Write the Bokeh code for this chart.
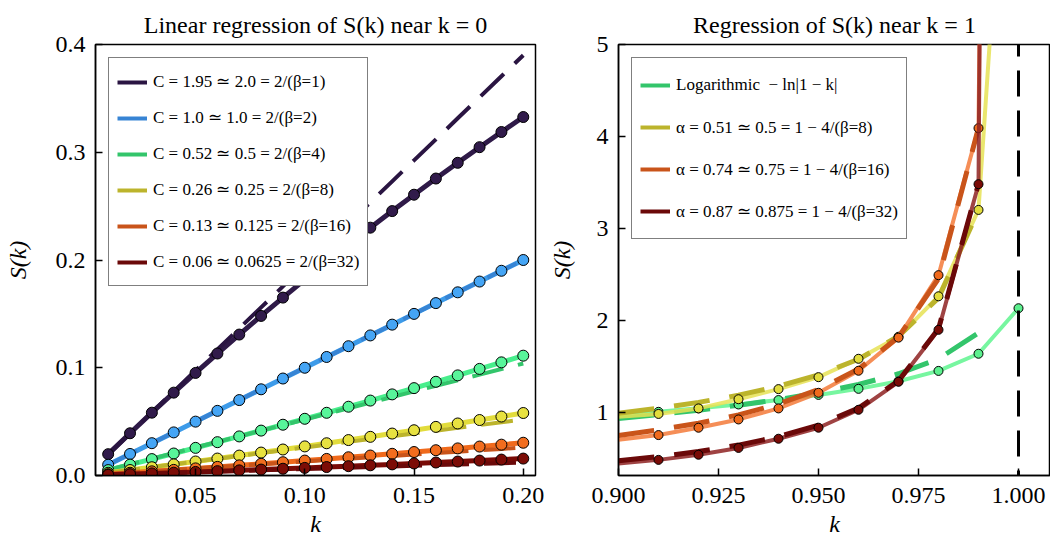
from bokeh.plotting import figure
from bokeh.models import Range1d, FixedTicker, PrintfTickFormatter, Legend, LegendItem, Span
from bokeh.layouts import row
from bokeh.embed import file_html
from bokeh.resources import INLINE

FONT = "Liberation Serif"

# ---------------- Left panel data (k near 0) ----------------
k_left = [0.01, 0.02, 0.03, 0.04, 0.05, 0.06, 0.07, 0.08, 0.09, 0.10,
          0.11, 0.12, 0.13, 0.14, 0.15, 0.16, 0.17, 0.18, 0.19, 0.20]
S_beta1 = [0.0198, 0.0392, 0.0583, 0.0769, 0.0952, 0.1132, 0.1308, 0.1481, 0.1651, 0.1818,
           0.1981, 0.2142, 0.2300, 0.2454, 0.2606, 0.2756, 0.2902, 0.3047, 0.3188, 0.3327]
S_beta2 = [0.010, 0.020, 0.030, 0.040, 0.050, 0.060, 0.070, 0.080, 0.090, 0.100,
           0.110, 0.120, 0.130, 0.140, 0.150, 0.160, 0.170, 0.180, 0.190, 0.200]
S_beta4 = [0.00503, 0.0101, 0.01523, 0.02041, 0.02564, 0.03093, 0.03627, 0.04167, 0.04712, 0.05263,
           0.0582, 0.06383, 0.06953, 0.07528, 0.08109, 0.08698, 0.09292, 0.09893, 0.1050, 0.1112]
S_beta8 = [0.00252, 0.00508, 0.00768, 0.01032, 0.0130, 0.01572, 0.01848, 0.02128, 0.02412, 0.0270,
           0.02992, 0.03288, 0.03588, 0.03892, 0.0420, 0.04512, 0.04828, 0.05148, 0.05472, 0.0580]
S_beta16 = [0.00126, 0.00255, 0.00387, 0.00522, 0.00659, 0.00799, 0.00941, 0.01086, 0.01234, 0.01385,
            0.01538, 0.01694, 0.01853, 0.02015, 0.02179, 0.02346, 0.02515, 0.02687, 0.02862, 0.0304]
S_beta32 = [0.00063, 0.00128, 0.00195, 0.00263, 0.00333, 0.00404, 0.00477, 0.00551, 0.00627, 0.00705,
            0.00784, 0.00865, 0.00948, 0.01032, 0.01118, 0.01205, 0.01294, 0.01384, 0.01476, 0.0157]
C_fit = [1.95, 1.0, 0.52, 0.26, 0.13, 0.06]
left_labels = ["C = 1.95 ≃ 2.0 = 2/(β=1)",
               "C = 1.0 ≃ 1.0 = 2/(β=2)",
               "C = 0.52 ≃ 0.5 = 2/(β=4)",
               "C = 0.26 ≃ 0.25 = 2/(β=8)",
               "C = 0.13 ≃ 0.125 = 2/(β=16)",
               "C = 0.06 ≃ 0.0625 = 2/(β=32)"]

# ---------------- Right panel data (k near 1) ----------------
k_right = [0.90, 0.91, 0.92, 0.93, 0.94, 0.95, 0.96, 0.97, 0.98, 0.99, 1.00]
S_r_beta4 = [0.968, 1.003, 1.041, 1.083, 1.131, 1.187, 1.253, 1.335, 1.448, 1.635, 2.13]
S_r_beta8 = [0.95, 0.98, 1.04, 1.14, 1.25, 1.38, 1.58, 1.82, 2.26, 3.20, 9.7]
S_r_beta16 = [0.70, 0.75, 0.83, 0.92, 1.04, 1.21, 1.45, 1.81, 2.49, 4.09, 45.0]
S_r_beta32 = [0.44, 0.48, 0.536, 0.61, 0.71, 0.83, 1.025, 1.33, 1.895, 3.48, 60.0]
k_fit_r = [0.90, 0.91, 0.92, 0.93, 0.94, 0.95, 0.96, 0.97, 0.98, 0.99]
fit_log = [0.930, 0.973, 1.020, 1.074, 1.137, 1.210, 1.300, 1.417, 1.580, 1.861]
fit_b8 = [0.987, 1.042, 1.106, 1.184, 1.281, 1.406, 1.575, 1.825, 2.243, 3.193]
fit_b16 = [0.745, 0.806, 0.879, 0.970, 1.087, 1.245, 1.468, 1.817, 2.452, 4.095]
fit_b32 = [0.470, 0.515, 0.571, 0.641, 0.732, 0.859, 1.043, 1.340, 1.906, 3.484]
right_labels = ["Logarithmic  − ln|1 − k|",
                "α = 0.51 ≃ 0.5 = 1 − 4/(β=8)",
                "α = 0.74 ≃ 0.75 = 1 − 4/(β=16)",
                "α = 0.87 ≃ 0.875 = 1 − 4/(β=32)"]

left_x_ticks = [0.05, 0.10, 0.15, 0.20]
left_y_ticks = [0.0, 0.1, 0.2, 0.3, 0.4]
right_x_ticks = [0.900, 0.925, 0.950, 0.975, 1.000]
right_y_ticks = [1, 2, 3, 4, 5]

# colours
left_solid = ["#2f1a48", "#3d9be9", "#48ee8c", "#e2dc3c", "#f06a1c", "#7a0b06"]
left_dot = ["#311b4b", "#45a5f5", "#58f59a", "#e8e240", "#f26d1e", "#7c0c06"]
left_dash = ["#2a1542", "#3784d4", "#33c56b", "#bcb42c", "#c9541a", "#6b0909"]
right_solid = ["#5ff58f", "#e6e255", "#f37a3a", "#8e2222"]
right_dot = ["#5cf08e", "#e2dc3c", "#f06a1c", "#7a0b06"]
right_dash = ["#33c56b", "#bcb42c", "#c9541a", "#6b0909"]


def style(p, xt, yt, xf, yf, ylab_standoff):
    p.xgrid.visible = False
    p.ygrid.visible = False
    p.outline_line_color = "black"
    p.outline_line_width = 1.5
    p.outline_line_alpha = 1.0
    p.background_fill_color = "white"
    p.border_fill_color = "white"
    p.xaxis.ticker = FixedTicker(ticks=xt)
    p.yaxis.ticker = FixedTicker(ticks=yt)
    p.xaxis.formatter = PrintfTickFormatter(format=xf)
    p.yaxis.formatter = PrintfTickFormatter(format=yf)
    for ax in (p.xaxis[0], p.yaxis[0]):
        ax.major_tick_in = 7
        ax.major_tick_out = 0
        ax.minor_tick_line_color = None
        ax.axis_line_color = "black"
        ax.axis_line_width = 1.5
        ax.major_tick_line_color = "black"
        ax.major_tick_line_width = 1.5
        ax.major_label_text_font = FONT
        ax.major_label_text_font_size = "24px"
        ax.major_label_text_color = "black"
        ax.axis_label_text_font = FONT
        ax.axis_label_text_font_style = "italic"
        ax.axis_label_text_font_size = "24px"
        ax.axis_label_text_color = "black"
    p.xaxis.major_label_standoff = 12
    p.xaxis.axis_label_standoff = 5
    p.yaxis.major_label_standoff = 10
    p.yaxis.axis_label_standoff = ylab_standoff
    p.title.text_font = FONT
    p.title.text_font_size = "24px"
    p.title.text_font_style = "normal"
    p.title.align = "center"
    p.title.text_color = "black"
    p.title.standoff = 14


def add_legend(p, labels, colors, xs, ys_list, lh, sp):
    items = []
    for lab, c, ys in zip(labels, colors, ys_list):
        r = p.line(xs[:1], ys[:1], line_color=c, line_width=4)
        items.append(LegendItem(label=lab, renderers=[r]))
    leg = Legend(items=items, location="top_left")
    leg.margin = 13
    leg.padding = 8
    leg.spacing = sp
    leg.label_height = lh
    leg.glyph_height = 20
    leg.glyph_width = 30
    leg.label_standoff = 6
    leg.label_text_font = FONT
    leg.label_text_font_size = "17px"
    leg.label_text_color = "black"
    leg.border_line_color = "black"
    leg.border_line_width = 1
    leg.background_fill_color = "white"
    leg.background_fill_alpha = 1.0
    p.add_layout(leg)


# ---------------- Left figure ----------------
p1 = figure(width=545, height=539, x_range=Range1d(0.0042, 0.2056), y_range=Range1d(0.0, 0.4),
            output_backend="svg", toolbar_location=None,
            title="Linear regression of S(k) near k = 0",
            min_border_left=95, min_border_right=10, min_border_top=44, min_border_bottom=61)
style(p1, left_x_ticks, left_y_ticks, "%.2f", "%.1f", 22)
p1.xaxis.axis_label = "k"
p1.yaxis.axis_label = "S(k)"

left_series = [S_beta1, S_beta2, S_beta4, S_beta8, S_beta16, S_beta32]
for i, ys in enumerate(left_series):
    p1.line(k_left, ys, line_color=left_solid[i], line_width=5)
    fit = [C_fit[i] * k for k in k_left]
    p1.line(k_left, fit, line_color=left_dash[i], line_width=4, line_dash="32 15")
    p1.scatter(k_left, ys, size=11, fill_color=left_dot[i], line_color="black", line_width=1)
add_legend(p1, left_labels, left_dash, k_left, left_series, 31, 5)

# ---------------- Right figure ----------------
p2 = figure(width=505, height=539, x_range=Range1d(0.9, 1.008), y_range=Range1d(0.31, 5.0),
            output_backend="svg", toolbar_location=None,
            title="Regression of S(k) near k = 1",
            min_border_left=73, min_border_right=0, min_border_top=44, min_border_bottom=61)
style(p2, right_x_ticks, right_y_ticks, "%.3f", "%d", 19)
p2.xaxis.axis_label = "k"
p2.yaxis.axis_label = "S(k)"

right_series = [S_r_beta4, S_r_beta8, S_r_beta16, S_r_beta32]
right_fits = [fit_log, fit_b8, fit_b16, fit_b32]
for i, ys in enumerate(right_series):
    p2.line(k_right, ys, line_color=right_solid[i], line_width=4, line_alpha=0.85)
    p2.line(k_fit_r, right_fits[i], line_color=right_dash[i], line_width=5, line_dash="36 20")
    p2.scatter(k_right[1:], ys[1:], size=9, fill_color=right_dot[i], line_color="black", line_width=1)

p2.add_layout(Span(location=1.0, dimension="height", line_color="black", line_width=3,
                   line_dash="26 14", line_dash_offset=14))
add_legend(p2, right_labels, right_dash, k_right, right_series, 38, 4)

layout = row(p1, p2)
open("out.html", "w").write(file_html(layout, INLINE))
